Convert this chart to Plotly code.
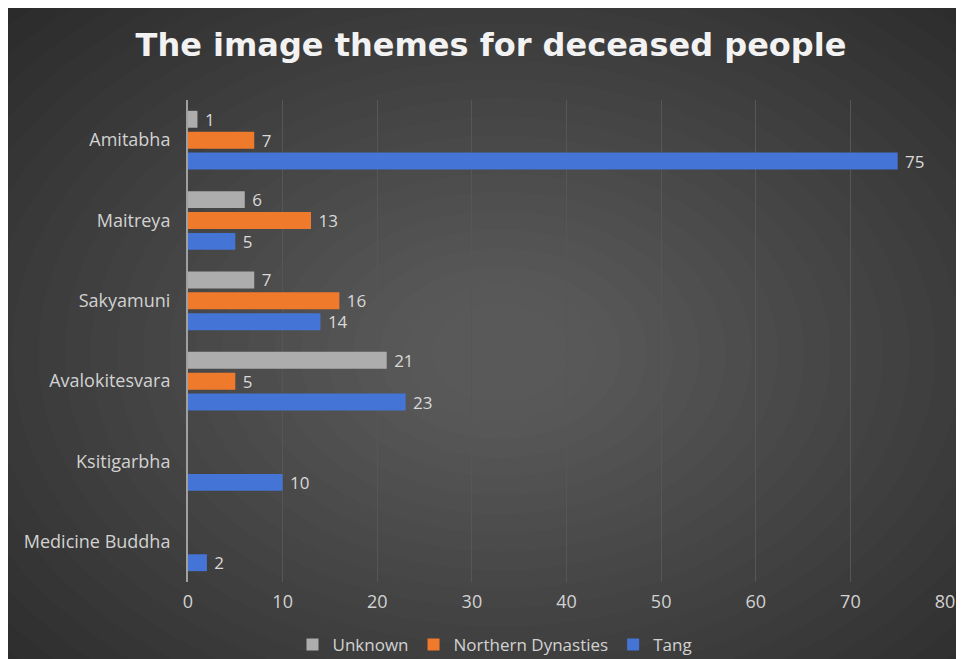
import plotly.graph_objects as go

categories = ["Amitabha", "Maitreya", "Sakyamuni", "Avalokitesvara", "Ksitigarbha", "Medicine Buddha"]
unknown = [1, 6, 7, 21, None, None]
northern = [7, 13, 16, 5, None, None]
tang = [75, 5, 14, 23, 10, 2]
series_names = ["Unknown", "Northern Dynasties", "Tang"]
x_ticks = [0, 10, 20, 30, 40, 50, 60, 70, 80]

colors = ["#adadad", "#f07a2c", "#4474d6"]

W, H = 964, 674
L, R, T = 180, 27, 92
B = H - 574
pw, ph = W - L - R, H - T - B

def px_x(p):
    return (p - L) / pw

def px_y(p):
    return (H - B - p) / ph

tick_font = dict(family="Open Sans", size=18, color="#d2d2d2")

fig = go.Figure()
for name, vals, c in zip(series_names, [unknown, northern, tang], colors):
    fig.add_trace(go.Bar(
        y=categories, x=vals, name=name, orientation="h",
        marker=dict(color=c, line=dict(width=0)),
        text=vals, texttemplate="\u00a0%{x}", textposition="outside",
        textfont=dict(color="#d9d9d9", size=17, family="Open Sans"),
        constraintext="none",
        cliponaxis=False,
    ))

shapes = []
# radial glow
cx, cy = 492, 345
n = 24
for i in range(n):
    r = 640 - i * 25
    shapes.append(dict(type="circle", xref="paper", yref="paper", layer="below",
                       x0=px_x(cx - r * 1.05), x1=px_x(cx + r * 1.05),
                       y0=px_y(cy + r * 0.75), y1=px_y(cy - r * 0.75),
                       fillcolor="#ffffff", opacity=0.0105, line=dict(width=0)))

fig.update_layout(
    width=W, height=H,
    margin=dict(l=L, r=R, t=T, b=B, pad=0, autoexpand=False),
    paper_bgcolor="#2b2b2b",
    plot_bgcolor="rgba(0,0,0,0)",
    barmode="group",
    bargap=0.22,
    bargroupgap=0.19,
    shapes=shapes,
    title=dict(text="<b>The image themes for deceased people</b>",
               x=px_x(483), xref="paper", xanchor="center",
               y=1 - 37 / H, yref="container", yanchor="middle",
               font=dict(family="DejaVu Sans", size=32, color="#f2f2f2")),
    xaxis=dict(range=[0, 80], tickvals=x_ticks, showgrid=True, gridcolor="#565656",
               gridwidth=1, zeroline=False, showline=False, ticks="", automargin=False,
               tickfont=tick_font, ticklabelstandoff=7),
    yaxis=dict(autorange="reversed", showgrid=False, showline=True, linecolor="#a0a0a0",
               linewidth=2, ticks="", zeroline=False, automargin=False,
               tickfont=tick_font, ticklabelstandoff=12),
    legend=dict(orientation="h", x=px_x(487), xanchor="center",
                y=1 - 637 / H, yref="container", yanchor="middle",
                font=dict(family="Open Sans", size=17, color="#d2d2d2"),
                bgcolor="rgba(0,0,0,0)", itemwidth=30, traceorder="normal"),
    showlegend=True,
)

fig.write_html("out.html")
